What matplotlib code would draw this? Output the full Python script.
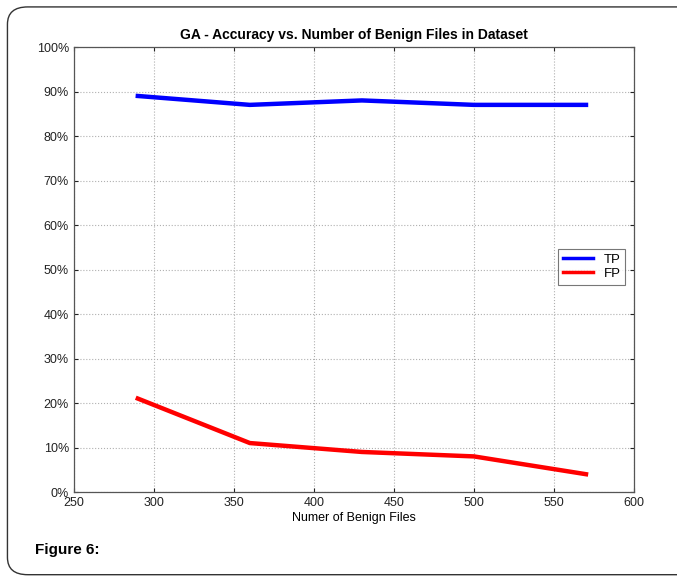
import numpy as np
import matplotlib
matplotlib.use("Agg")
from matplotlib import pyplot as plt
from matplotlib.patches import FancyBboxPatch

plt.rcParams["font.family"] = ["Liberation Sans", "DejaVu Sans"]

# data
benign_files = [290, 360, 430, 500, 570]
tp_rate = [89, 87, 88, 87, 87]
fp_rate = [21, 11, 9, 8, 4]
x_ticks = [250, 300, 350, 400, 450, 500, 550, 600]
y_ticks = [0, 10, 20, 30, 40, 50, 60, 70, 80, 90, 100]

fig = plt.figure(figsize=(6.77, 5.77), dpi=100)

# rounded frame around the whole figure
frame = FancyBboxPatch(
    (0.011, 0.004), 1.2, 0.984,
    boxstyle="round,pad=0,rounding_size=0.03",
    transform=fig.transFigure, fill=False, edgecolor="#333333", linewidth=1.0,
)
fig.patches.append(frame)

ax = fig.add_axes([0.109, 0.1473, 0.8275, 0.7712])
ax.plot(benign_files, tp_rate, color="#0000ff", linewidth=3.2, label="TP")
ax.plot(benign_files, fp_rate, color="#ff0000", linewidth=3.2, label="FP")

ax.set_xlim(250, 600)
ax.set_ylim(0, 100)
ax.set_xticks(x_ticks)
ax.set_yticks(y_ticks)
ax.set_yticklabels([f"{v}%" for v in y_ticks])
ax.tick_params(labelsize=9, direction="in", length=3, colors="#222222",
               top=True, right=True)
ax.grid(True, linestyle=":", color="#b0b0b0", linewidth=0.8)
for s in ax.spines.values():
    s.set_color("#555555")
    s.set_linewidth(0.9)

ax.set_title("GA - Accuracy vs. Number of Benign Files in Dataset",
             fontsize=10, fontweight="bold", pad=6)
ax.set_xlabel("Numer of Benign Files", fontsize=9, labelpad=2)

leg = ax.legend(loc="center right", bbox_to_anchor=(0.984, 0.506),
                borderaxespad=0, fontsize=9.5, fancybox=False,
                edgecolor="#555555", handlelength=2.3, borderpad=0.35,
                labelspacing=0.15)
leg.get_frame().set_linewidth(0.8)
for line in leg.get_lines():
    line.set_linewidth(2.5)

fig.text(0.052, 0.04, "Figure 6:", fontsize=11, fontweight="bold")

fig.savefig("out.png", dpi=100)
plt.close(fig)
